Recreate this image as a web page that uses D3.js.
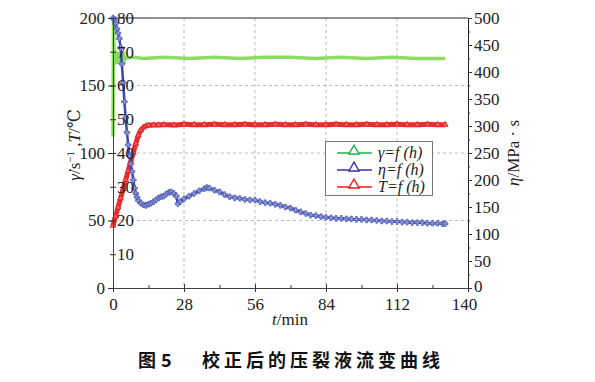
<!DOCTYPE html>
<html><head><meta charset="utf-8">
<script src="https://cdn.jsdelivr.net/npm/d3@7"></script>
<style>
body{margin:0;background:#fff;}
svg{display:block;}
</style></head><body>
<svg id="c" width="595" height="382"></svg>
<script>
// ---------------- data ----------------
const xTicks = [0, 28, 56, 84, 112, 140];
const xMinor = [14, 42, 70, 98, 126];
const leftTicks = [0, 50, 100, 150, 200];
const innerTTicks = [10, 20, 30, 40, 50, 60, 70, 80];
const rightTicks = [0, 50, 100, 150, 200, 250, 300, 350, 400, 450, 500];
const rightMinor = [25, 75, 125, 175, 225, 275, 325, 375, 425, 475];
const legendLabels = ["γ=f (h)", "η=f (h)", "T=f (h)"];

// shear rate γ (s^-1), left axis 0-200
const gammaT = [0, 0.2, 0.5, 1, 1.5, 2, 3, 4, 5, 8, 12, 20, 30, 40, 50, 60, 70, 80, 90, 100, 110, 120, 131];
const gammaV = [112, 198, 166, 175, 167, 173, 168, 172, 170, 171, 170, 171, 170, 171, 170, 171, 171, 170, 171, 170, 171, 170, 170];

// viscosity η (mPa·s), right axis 0-500
const etaT = [0, 0.5, 1, 1.5, 2, 2.5, 3, 3.5, 4, 4.5, 5, 5.5, 6, 6.5, 7, 7.5, 8, 8.5, 9, 9.5, 10,
  11, 12, 13, 14, 15, 16, 17, 18, 19, 20, 21, 22, 23, 24, 25, 25.6, 26.5, 28, 30, 32, 34, 36, 37, 38,
  40, 42, 44, 46, 48, 50, 52, 54, 56, 58, 60, 62, 64, 66, 68, 70, 72, 74, 76, 78, 80, 82, 84, 86, 88,
  90, 92, 94, 96, 98, 100, 102, 104, 106, 108, 110, 112, 114, 116, 118, 120, 122, 124, 126, 128, 130, 131];
const etaV = [500, 498, 490, 480, 472, 462, 445, 415, 380, 345, 315, 288, 265, 245, 230, 216, 200, 185, 175, 168, 162,
  157, 154, 153, 155, 157, 160, 163, 167, 169, 170, 174, 177, 178, 175, 170, 156, 160, 165, 170, 175, 180, 184, 186, 185,
  181, 178, 173, 169, 167, 166, 164, 163, 163, 160, 158, 157, 155, 153, 150, 148, 144, 141, 138, 135, 134, 132, 131, 130, 129,
  129, 128, 128, 127, 127, 126, 126, 125, 124, 124, 123, 123, 122, 122, 121, 121, 121, 120, 120, 120, 119, 119];

// temperature T (°C), inner scale 0-80
const tempT = [0, 1, 2, 3, 4, 5, 6, 7, 8, 9, 10, 11, 12, 13, 14, 16, 18, 20, 24, 28, 32, 36, 40, 44, 48, 52, 56, 60, 64, 68, 72, 76, 80,
  84, 88, 92, 96, 100, 104, 108, 112, 116, 120, 124, 128, 131];
const tempV = [18.5, 21.2, 23.9, 26.6, 29.3, 32.0, 34.7, 37.4, 40.1, 42.8, 45.2, 46.8, 47.6, 48.0, 48.2, 48.3, 48.3, 48.4, 48.3, 48.5, 48.4, 48.4, 48.5, 48.4, 48.4, 48.5,
  48.4, 48.4, 48.5, 48.4, 48.4, 48.5, 48.4, 48.4, 48.5, 48.4, 48.4, 48.5, 48.4, 48.4, 48.5, 48.4, 48.4, 48.5, 48.4, 48.4];

// ---------------- chart ----------------
const serif = "'Liberation Serif', 'DejaVu Serif', 'Times New Roman', serif";
const svg = d3.select("#c");
const L = 113, R = 468, T0 = 18, B = 288;
const x = d3.scaleLinear().domain([0, 140]).range([L, R]);
const yL = d3.scaleLinear().domain([0, 200]).range([B, T0]);
const yT = d3.scaleLinear().domain([0, 80]).range([B, T0]);
const yE = d3.scaleLinear().domain([0, 500]).range([B, T0]);

// grid
const grid = svg.append("g").attr("stroke", "#b8b8b8").attr("stroke-dasharray", "3,3").attr("stroke-width", 1);
[28, 56, 84, 112].forEach(v => grid.append("line").attr("x1", x(v)).attr("x2", x(v)).attr("y1", T0).attr("y2", B));
[50, 100, 150].forEach(v => grid.append("line").attr("x1", L).attr("x2", R).attr("y1", yL(v)).attr("y2", yL(v)));

// top border
svg.append("line").attr("x1", L).attr("x2", R).attr("y1", T0).attr("y2", T0).attr("stroke", "#222");

const tri = d3.symbol().type(d3.symbolTriangle);

// green γ
const gData = gammaT.map((t, i) => [t, gammaV[i]]);
svg.append("path").datum(gData)
  .attr("d", d3.line().x(d => x(d[0])).y(d => yL(d[1])))
  .attr("fill", "none").attr("stroke", "#8ddc62").attr("stroke-width", 3.5).attr("stroke-linejoin", "round");
svg.append("rect").attr("x", x(0.3)).attr("y", yL(175)).attr("width", x(5) - x(0.3)).attr("height", yL(166) - yL(175))
  .attr("fill", "#86d95a").attr("opacity", 0.85);

// red T
const tData = tempT.map((t, i) => [t, tempV[i]]);
svg.append("path").datum(tData)
  .attr("d", d3.line().curve(d3.curveMonotoneX).x(d => x(d[0])).y(d => yT(d[1])))
  .attr("fill", "none").attr("stroke", "#ee2a2a").attr("stroke-width", 5).attr("stroke-linejoin", "round");
svg.append("g").selectAll("path").data(tData).join("path")
  .attr("transform", d => `translate(${x(d[0])},${yT(d[1])})`)
  .attr("d", tri.size(14)).attr("fill", "#f26060").attr("stroke", "#e01818").attr("stroke-width", 0.8);

// blue η
const eData = etaT.map((t, i) => [t, etaV[i]]);
svg.append("path").datum(eData)
  .attr("d", d3.line().x(d => x(d[0])).y(d => yE(d[1])))
  .attr("fill", "none").attr("stroke", "#3b4aa8").attr("stroke-width", 2.5).attr("stroke-linejoin", "round");
svg.append("g").selectAll("path").data(eData).join("path")
  .attr("transform", d => `translate(${x(d[0])},${yE(d[1])})`)
  .attr("d", d3.symbol().type(d3.symbolCross).size(18)).attr("fill", "#8c97d6").attr("stroke", "#3545a8").attr("stroke-width", 0.6);

// axes
const fmt = d3.format("d");
function styleAxis(g) {
  g.attr("font-family", serif).attr("font-size", 17);
  g.selectAll("text").attr("fill", "#222");
  g.selectAll("line").attr("stroke", "#333");
}
const gl = svg.append("g").attr("transform", `translate(${L},0)`)
  .call(d3.axisLeft(yL).tickValues(leftTicks).tickSize(5).tickPadding(3).tickFormat(fmt)).call(styleAxis);
gl.select(".domain").attr("stroke", "#444");
const gi = svg.append("g").attr("transform", `translate(${L},0)`)
  .call(d3.axisRight(yT).tickValues(innerTTicks).tickSize(3).tickPadding(1).tickFormat(fmt)).call(styleAxis);
gi.select(".domain").remove();
gi.selectAll(".tick line").attr("x1", -3);

const gr = svg.append("g").attr("transform", `translate(${R},0)`)
  .call(d3.axisRight(yE).tickValues(rightTicks).tickSize(4).tickPadding(2).tickFormat(fmt)).call(styleAxis);
gr.select(".domain").attr("stroke", "#222");
gr.selectAll(".tick text").filter(d => d === 0).attr("dy", "0.2em");
svg.append("g").attr("transform", `translate(${R},0)`)
  .call(d3.axisRight(yE).tickValues(rightMinor).tickSize(2).tickFormat("")).call(styleAxis)
  .select(".domain").remove();

const gb = svg.append("g").attr("transform", `translate(0,${B})`)
  .call(d3.axisBottom(x).tickValues(xTicks).tickSize(4).tickPadding(6).tickFormat(fmt)).call(styleAxis);
gb.select(".domain").attr("stroke", "#444");
gb.selectAll(".tick line").attr("y1", -4);
gb.selectAll(".tick text").filter(d => d === 140).attr("dx", -4);
svg.append("g").attr("transform", `translate(0,${B})`)
  .call(d3.axisTop(x).tickValues(xMinor).tickSize(3).tickFormat("")).call(styleAxis)
  .select(".domain").remove();

// axis titles
const xt = svg.append("text").attr("x", 290).attr("y", 325).attr("text-anchor", "middle")
  .attr("font-family", serif).attr("font-size", 17).attr("fill", "#222");
xt.append("tspan").attr("font-style", "italic").text("t");
xt.append("tspan").text("/min");

const lt = svg.append("text").attr("transform", "translate(80,145) rotate(-90)").attr("text-anchor", "middle")
  .attr("font-family", serif).attr("font-size", 17).attr("fill", "#222");
lt.append("tspan").attr("font-style", "italic").text("γ\u0307");
lt.append("tspan").text("/s");
lt.append("tspan").attr("dy", -6).attr("font-size", 11).text("−1");
lt.append("tspan").attr("dy", 6).text(" ,");
lt.append("tspan").attr("font-style", "italic").text("T");
lt.append("tspan").text("/℃");

const rt = svg.append("text").attr("transform", "translate(519,153) rotate(-90)").attr("text-anchor", "middle")
  .attr("font-family", serif).attr("font-size", 17).attr("fill", "#222");
rt.append("tspan").attr("font-style", "italic").text("η");
rt.append("tspan").text("/MPa · s");

// legend
const lg = svg.append("g");
lg.append("rect").attr("x", 325.5).attr("y", 141.5).attr("width", 107).attr("height", 54)
  .attr("fill", "#fff").attr("stroke", "#777").attr("stroke-width", 1);
const lcol = ["#1db04a", "#3434a4", "#f01e1e"];
legendLabels.forEach((lab, i) => {
  const yy = 153 + i * 17;
  lg.append("line").attr("x1", 337).attr("x2", 372).attr("y1", yy).attr("y2", yy).attr("stroke", lcol[i]).attr("stroke-width", 1.3);
  lg.append("path").attr("transform", `translate(354,${yy - 2})`).attr("d", tri.size(45))
    .attr("fill", "#fff").attr("stroke", lcol[i]).attr("stroke-width", 1.4);
  lg.append("text").attr("x", 378).attr("y", yy + 5).attr("font-family", serif).attr("font-size", 16)
    .attr("font-style", "italic").attr("fill", "#222").text(lab);
});

// caption
const cjk = "'Noto Sans CJK SC', 'Noto Sans', sans-serif";
svg.append("text").attr("x", 138).attr("y", 367).attr("font-family", cjk).attr("font-size", 18).attr("font-weight", "bold")
  .attr("fill", "#111").text("图");
svg.append("text").attr("x", 161).attr("y", 367).attr("font-family", cjk).attr("font-size", 18).attr("font-weight", "bold")
  .attr("fill", "#111").text("5");
svg.append("text").attr("x", 202).attr("y", 367).attr("font-family", cjk).attr("font-size", 18).attr("font-weight", "bold")
  .attr("letter-spacing", 4).attr("fill", "#111").text("校正后的压裂液流变曲线");
</script>
</body></html>
